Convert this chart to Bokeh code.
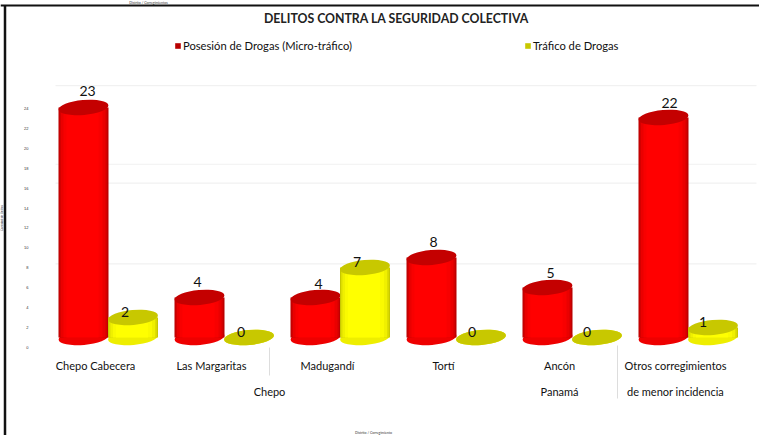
from bokeh.plotting import figure
from bokeh.embed import file_html
from bokeh.resources import INLINE
from bokeh.models import (ColumnDataSource, LinearAxis, Range1d, FixedTicker, Legend, LegendItem, Span)
from bokeh.core.properties import value

title_text = "DELITOS CONTRA LA SEGURIDAD COLECTIVA"
series_a_name = "Posesión de Drogas (Micro-tráfico)"
series_b_name = "Tráfico de Drogas"
categories = ["Chepo Cabecera", "Las Margaritas", "Madugandí", "Tortí", "Ancón", "Otros corregimientos"]
posesion = [23, 4, 4, 8, 5, 22]
trafico = [2, 0, 7, 0, 0, 1]
second_level = {1.5: "Chepo", 4: "Panamá", 5: "de menor incidencia"}
separators = [1.5, 4.5]
y_ticks = [0, 2, 4, 6, 8, 10, 12, 14, 16, 18, 20, 22, 24]
grid_values = [8.4, 16.5, 18.4, 26.3]

W, H = 759, 435
PX_PER_GROUP = 116.0
X0_PX = 95.0
BASE_PX = 337.0
PX_PER_UNIT = 10.0

def xd(px):
    return (px - X0_PX) / PX_PER_GROUP
def yd(px):
    return (BASE_PX - px) / PX_PER_UNIT

p = figure(width=W, height=H, output_backend="svg", toolbar_location=None,
           x_range=Range1d(xd(0), xd(W)), y_range=Range1d(yd(H), yd(0)),
           min_border=0, x_axis_type=None, y_axis_type=None,
           background_fill_color="white", border_fill_color="white")
p.outline_line_color = None
p.grid.visible = False
p.extra_y_ranges = {"ticks": Range1d((347 - H) / 9.96, 347 / 9.96)}

# frame lines of the reference picture
p.add_layout(Span(location=yd(5), dimension="width", line_color="#111111", line_width=2))
p.segment(x0=[xd(4.5)], x1=[xd(4.5)], y0=[yd(5)], y1=[yd(H)], line_color="#111111", line_width=2.5)

# gridlines
ax_scale = 9.96
grid_y = [yd(347 - g * ax_scale) for g in grid_values]
p.segment(x0=[xd(55)] * len(grid_y), x1=[xd(756)] * len(grid_y), y0=grid_y, y1=grid_y,
          line_color="#f1f1f1", line_width=1.2)

# separators in the category labels
p.segment(x0=separators, x1=separators, y0=[yd(347), yd(345)], y1=[yd(375), yd(398)],
          line_color="#dddddd", line_width=1)

BAR_W = 50.0 / PX_PER_GROUP
RED_OFF = -12.0 / PX_PER_GROUP
YEL_OFF = 37.5 / PX_PER_GROUP
ELL_H = 1.5

RED_LAYERS = [(0.0, 1.0, "#b80000"), (0.02, 0.975, "#d40000"), (0.05, 0.94, "#ea0000"), (0.10, 0.88, "#f80000"), (0.16, 0.80, "#ff0000")]
YEL_LAYERS = [(0.0, 1.0, "#c8c800"), (0.02, 0.975, "#dede00"), (0.05, 0.94, "#f0f000"), (0.10, 0.88, "#fafa00"), (0.16, 0.80, "#ffff00")]
ANGLE = 0.09

def cylinder(vals, off, layers, top_color, base_color):
    xs = [i + off for i in range(len(vals))]
    first = None
    base = ColumnDataSource(dict(x=xs, y=[0] * len(vals)))
    p.ellipse("x", "y", source=base, width=BAR_W * PX_PER_GROUP, height=ELL_H * PX_PER_UNIT,
              width_units="screen", height_units="screen", angle=ANGLE,
              fill_color=base_color, line_color=None)
    vis = [i for i, v in enumerate(vals) if v > 0]
    for lf, rf, col in layers:
        r = p.quad(left=[xs[i] - BAR_W / 2 + lf * BAR_W for i in vis],
                   right=[xs[i] - BAR_W / 2 + rf * BAR_W for i in vis],
                   bottom=[0] * len(vis), top=[vals[i] for i in vis],
                   fill_color=col, line_color=None)
        first = first or r
    top = ColumnDataSource(dict(x=xs, y=vals))
    p.ellipse("x", "y", source=top, width=BAR_W * PX_PER_GROUP, height=ELL_H * PX_PER_UNIT,
              width_units="screen", height_units="screen", angle=ANGLE,
              fill_color=top_color, line_color=None)
    return first

r_red = cylinder(posesion, RED_OFF, RED_LAYERS, "#c40000", "#ee0000")
r_yel = cylinder(trafico, YEL_OFF, YEL_LAYERS, "#c8c800", "#eeee00")

# value labels
red_dx = [4, -2, 3, 2, 3, 6]
red_dy = [17, 16, 14, 16, 15, 15]
yel_dx = [-8, -8, -8, -9, -10, -10]
yel_dy = [6, 6, 6, 6, 6, 6]
FONT = "Lato"
p.text([i + RED_OFF for i in range(6)], posesion, text=[str(v) for v in posesion],
       x_offset=red_dx, y_offset=[-d for d in red_dy], text_font=value(FONT), text_font_size="14px",
       text_color="#111111", text_align="center", text_baseline="middle")
p.text([i + YEL_OFF for i in range(6)], trafico, text=[str(v) for v in trafico],
       x_offset=yel_dx, y_offset=[-d for d in yel_dy], text_font=value(FONT), text_font_size="14px",
       text_color="#111111", text_align="center", text_baseline="middle")

# title and the tiny top caption
p.text([xd(396)], [yd(18)], text=[title_text], text_font=value(FONT), text_font_size="12.3px",
       text_font_style="bold", text_color="#222222", text_align="center", text_baseline="middle")
p.text([xd(148)], [yd(2.5)], text=["Distrito / Corregimientos"], text_font=value(FONT), text_font_size="3.5px",
       text_color="#333333", text_align="center", text_baseline="middle")

# legend
legend = Legend(items=[LegendItem(label=series_a_name, renderers=[r_red]),
                       LegendItem(label=series_b_name, renderers=[r_yel])],
                orientation="horizontal", location=(174, H - 52), glyph_width=7, glyph_height=7,
                spacing=172, label_standoff=2, padding=0, margin=0,
                background_fill_alpha=0, border_line_color=None,
                label_text_font=FONT, label_text_font_size="11.2px", label_text_color="#111111")
p.add_layout(legend, "center")

# y axis
ya = LinearAxis(y_range_name="ticks", ticker=FixedTicker(ticks=y_ticks), fixed_location=xd(36),
                axis_line_color=None, major_tick_line_color=None, minor_tick_line_color=None,
                major_label_text_font_size="4px", major_label_text_color="#333333",
                major_label_standoff=2, axis_label="Cantidad de Delitos",
                axis_label_text_font_size="3px", axis_label_standoff=18,
                axis_label_text_font_style="normal", axis_label_text_color="#333333")
p.add_layout(ya, "left")

# category axes
def x_axis(ticks, labels, loc_px):
    ax = LinearAxis(ticker=FixedTicker(ticks=ticks), major_label_overrides=labels, fixed_location=yd(loc_px),
                    axis_line_color=None, major_tick_line_color=None, minor_tick_line_color=None,
                    major_label_text_font=FONT, major_label_text_font_size="11px",
                    major_label_text_color="#111111", major_label_standoff=7)
    p.add_layout(ax, "below")
    return ax

x_axis(list(range(6)), {i: c for i, c in enumerate(categories)}, 345)
x_axis(list(second_level.keys()), second_level, 371)
p.text([xd(373)], [yd(432)], text=["Distrito / Corregimiento"], text_font=value(FONT), text_font_size="3.5px",
       text_color="#333333", text_align="center", text_baseline="middle")

open("out.html", "w").write(file_html(p, INLINE))
